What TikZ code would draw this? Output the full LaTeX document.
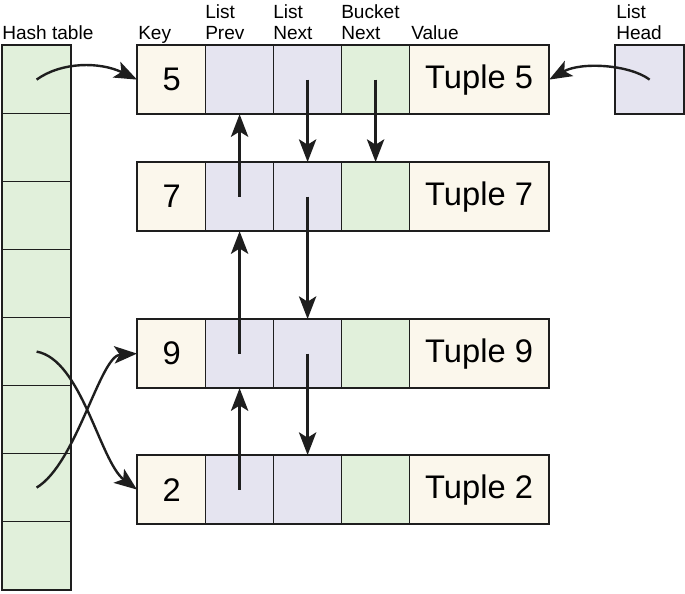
\documentclass[tikz,border=0pt]{standalone}
\usepackage{fontspec}
\setmainfont{Liberation Sans}
\usetikzlibrary{arrows.meta}
\definecolor{keycol}{HTML}{FBF7EC}
\definecolor{ptrcol}{HTML}{E5E4F0}
\definecolor{bktcol}{HTML}{E1F0DB}
\definecolor{linecol}{HTML}{1E1E1E}
\tikzset{
  cell/.style={draw=linecol, line width=0.9pt, minimum width=51pt, minimum height=51pt,
    inner sep=0pt, anchor=north west, font=\fontsize{24.5}{28}\selectfont},
  keycell/.style={cell, fill=keycol},
  ptrcell/.style={cell, fill=ptrcol},
  bktcell/.style={cell, fill=bktcol},
  valcell/.style={cell, fill=keycol, minimum width=104.25pt},
  rowbox/.style={draw=linecol, line width=1.7pt},
  hdr/.style={anchor=base west, align=left, inner sep=0pt, font=\fontsize{14.3}{15.5}\selectfont},
  link/.style={line width=1.8pt, draw=linecol, -{Stealth[length=17pt,width=13pt,inset=4pt]}},
}
\begin{document}
\begin{tikzpicture}[x=0.75pt, y=-0.75pt]
	\useasboundingbox (0,0) rectangle (685,593);
	% hash table column
	\foreach \i in {0,...,7}
		\node[bktcell] (h\i) at (2,{45+68*\i}) {};
	\draw[rowbox] (h0.north west) rectangle (h7.south east);
	% entries
	\foreach \k/\y in {5/45, 7/162, 9/319, 2/455} {
		\node[keycell] (k\k) at (137,\y) {\k};
		\node[ptrcell] (p\k) at (205,\y) {};
		\node[ptrcell] (n\k) at (273,\y) {};
		\node[bktcell] (b\k) at (341,\y) {};
		\node[valcell] (v\k) at (409,\y) {Tuple \k};
		\draw[rowbox] (k\k.north west) rectangle (v\k.south east);
	}
	\node[ptrcell] (lh) at (615,45) {};
	\draw[rowbox] (lh.north west) rectangle (lh.south east);
	% headings
	\node[hdr] (thash) at (2,39.5) {Hash table};
	\node[hdr] (tkey) at (138,39.5) {Key};
	\node[hdr] (tprev) at (205,39.5) {List\\Prev};
	\node[hdr] (tnext) at (273,39.5) {List\\Next};
	\node[hdr] (tbkt) at (341,39.5) {Bucket\\Next};
	\node[hdr] (tval) at (411,39.5) {Value};
	\node[hdr] (thead) at (616,39.5) {List\\Head};
	% links
	\draw[link] (h0.center) .. controls +(25,-18) and +(-37,-18) .. (k5.west);
	\draw[link] (lh.center) .. controls +(-20,-15) and +(32,-18) .. (v5.east);
	\draw[link] (h4.center) .. controls +(45,8) and +(-37,-28) .. (k2.west);
	\draw[link] (h6.center) .. controls +(40,-24) and +(-37,2) .. (k9.west);
	\draw[link] (p7.center) -- (p5.south);
	\draw[link] (p9.center) -- (p7.south);
	\draw[link] (p2.center) -- (p9.south);
	\draw[link] (n5.center) -- (n7.north);
	\draw[link] (n7.center) -- (n9.north);
	\draw[link] (n9.center) -- (n2.north);
	\draw[link] (b5.center) -- (b7.north);
\end{tikzpicture}
\end{document}
